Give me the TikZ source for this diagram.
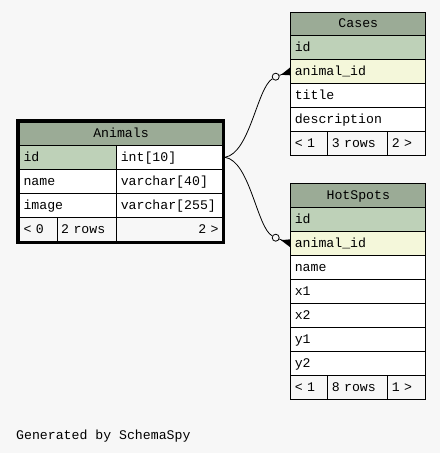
\documentclass[tikz,border=0pt]{standalone}
\usepackage{fontspec}
\setmonofont{Liberation Mono}
\definecolor{bgc}{HTML}{F7F7F7}
\definecolor{headc}{HTML}{9BAB96}
\definecolor{pkc}{HTML}{BED1B8}
\definecolor{fkc}{HTML}{F4F7DA}
\tikzset{
  cell/.style={draw=black, line width=1pt, inner xsep=4pt, inner ysep=0pt,
    minimum height=24pt, text height=9pt, text depth=2.5pt, anchor=north west,
    font=\ttfamily\fontsize{13.2}{15}\selectfont},
  conn/.style={draw=black, line width=0.8pt},
  dotend/.style={circle, draw=black, line width=0.8pt, fill=bgc, minimum size=7pt, inner sep=0pt},
}
\newcommand\erc[7]{\node[cell, fill=#5, text width=\dimexpr#4pt-8pt\relax, align=#6] (#1) at (#2,#3) {#7};}
\begin{document}
\begin{tikzpicture}[x=1pt,y=-1pt]
\fill[bgc] (0,0) rectangle (440,453);
\useasboundingbox (0,0) rectangle (440,453);
% ---- Cases
\erc{cases-h}{290.3}{11.7}{135}{headc}{center}{Cases}
\erc{cases-id}{290.3}{35.3}{135}{pkc}{left}{id}
\erc{cases-fk}{290.3}{59.3}{135}{fkc}{left}{animal\_id}
\erc{cases-title}{290.3}{83.3}{135}{white}{left}{title}
\erc{cases-desc}{290.3}{107.3}{135}{white}{left}{description}
\erc{cases-f1}{290.3}{131.3}{37}{bgc}{left}{< 1}
\erc{cases-f2}{327.3}{131.3}{60}{bgc}{left}{3 rows}
\erc{cases-f3}{387.3}{131.3}{38}{bgc}{left}{2 >}
% ---- HotSpots
\erc{hs-h}{290.3}{183.3}{135}{headc}{center}{HotSpots}
\erc{hs-id}{290.3}{207.3}{135}{pkc}{left}{id}
\erc{hs-fk}{290.3}{231.3}{135}{fkc}{left}{animal\_id}
\erc{hs-name}{290.3}{255.3}{135}{white}{left}{name}
\erc{hs-x1}{290.3}{279.3}{135}{white}{left}{x1}
\erc{hs-x2}{290.3}{303.3}{135}{white}{left}{x2}
\erc{hs-y1}{290.3}{327.3}{135}{white}{left}{y1}
\erc{hs-y2}{290.3}{351.3}{135}{white}{left}{y2}
\erc{hs-f1}{290.3}{375.3}{37}{bgc}{left}{< 1}
\erc{hs-f2}{327.3}{375.3}{60}{bgc}{left}{8 rows}
\erc{hs-f3}{387.3}{375.3}{38}{bgc}{left}{1 >}
% ---- Animals
\erc{an-h}{19}{121.7}{203}{headc}{center}{Animals}
\erc{an-id}{19}{145.3}{97.3}{pkc}{left}{id}
\erc{an-idt}{116.3}{145.3}{105.7}{white}{left}{int[10]}
\erc{an-name}{19}{169.3}{97.3}{white}{left}{name}
\erc{an-namet}{116.3}{169.3}{105.7}{white}{left}{varchar[40]}
\erc{an-img}{19}{193.3}{97.3}{white}{left}{image}
\erc{an-imgt}{116.3}{193.3}{105.7}{white}{left}{varchar[255]}
\erc{an-f1}{19}{217.3}{37.7}{bgc}{left}{< 0}
\erc{an-f2}{56.7}{217.3}{59.6}{bgc}{left}{2 rows}
\erc{an-f3}{116.3}{217.3}{105.7}{bgc}{right}{2 >}
\draw[line width=3pt] (17.5,120.2) rectangle (223.5,242.5);
% ---- connectors
\coordinate (src) at (225,157.3);
\node[dotend] (o1) at (275.7,76.7) {};
\node[dotend] (o2) at (275.7,237.7) {};
\coordinate (k1) at (290.3,71.3);
\coordinate (k2) at (290.3,243.3);
\draw[conn] (src) .. controls (250,153) and (257,88) .. (o1);
\draw[conn] (src) .. controls (250,161) and (257,228) .. (o2);
\draw[conn] (o1) -- (k1);
\fill (281,74.8) -- (290.3,67.3) -- (290.3,75.3) -- cycle;
\draw[conn] (o2) -- (k2);
\fill (281,240.2) -- (290.3,239.3) -- (290.3,247.3) -- cycle;
% ---- footer text
\node[anchor=base west, inner sep=0pt, font=\ttfamily\fontsize{13.2}{15}\selectfont] (gen) at (16,439) {Generated by SchemaSpy};
\end{tikzpicture}
\end{document}
